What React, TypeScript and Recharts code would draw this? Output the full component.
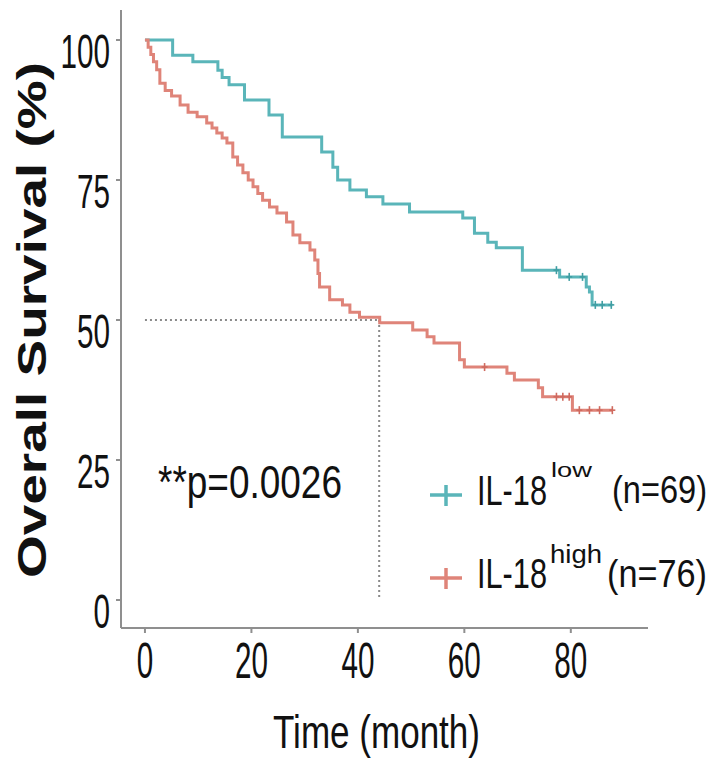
import { ComposedChart, Line, Scatter, XAxis, YAxis, ReferenceLine } from "recharts";

// IL-18 low group (n=69), Kaplan-Meier steps
const lowTimes = [0, 5.2, 9, 13.7, 14.5, 15.8, 18.7, 23.3, 25.8, 33.2, 35.3, 36.2, 38.5, 41.6, 44.7, 49.7, 59.7, 61.9, 64.4, 66, 70.9, 77.9, 82.9, 83.5, 84, 87.8];
const lowSurv = [100, 97.3, 96.1, 94.6, 93.3, 92, 89.3, 86.6, 82.7, 80, 77.3, 75, 73.2, 72, 70.7, 69.3, 68.2, 65.5, 63.9, 62.9, 58.9, 57.7, 55.9, 55, 52.7, 52.7];

// IL-18 high group (n=76)
const highTimes = [0, 0.6, 1.1, 1.6, 2.2, 2.8, 3.8, 5.0, 6.6, 8.1, 9.8, 11.6, 12.6, 13.5, 14.5, 15.4, 16.5, 17.4, 18.4, 19.4, 20.3, 21.2, 22.1, 23.4, 24.8, 26.6, 27.8, 29.1, 31.0, 31.9, 32.5, 32.8, 34.7, 37.1, 38.5, 40.3, 44.1, 50.3, 53.0, 54.3, 59.1, 60.0, 68.0, 69.4, 73.9, 74.7, 80.3, 87.8];
const highSurv = [100, 98.7, 97.4, 96.1, 94.7, 92.3, 91.0, 90.0, 88.4, 87.1, 86.3, 85.2, 84.3, 83.4, 82.5, 81.6, 79.1, 77.7, 76.3, 75.0, 73.8, 72.6, 71.4, 70.2, 69.1, 67.5, 65.2, 63.8, 62.5, 60.7, 58.3, 55.9, 53.6, 52.7, 51.4, 50.5, 49.5, 48.2, 47.0, 45.9, 42.9, 41.6, 40.5, 39.3, 37.9, 36.3, 33.9, 33.9];

// censored observations
const lowCensorTimes = [77.3, 79.7, 82.2, 84.6, 85.9, 87.6];
const lowCensorSurv = [58.9, 57.7, 57.7, 52.7, 52.7, 52.7];
const highCensorTimes = [63.8, 77.3, 78.5, 79.7, 81.6, 83.5, 85.4, 87.8];
const highCensorSurv = [41.6, 36.3, 36.3, 36.3, 33.9, 33.9, 33.9, 33.9];

const xTicks = [0, 20, 40, 60, 80];
const yTicks = [0, 25, 50, 75, 100];
const medianTime = 44;
const medianSurv = 50;

const FONT = "'Liberation Sans', Arial, sans-serif";
const LOW = "#5ab5b9";
const HIGH = "#df8479";
const AXIS = "#8f8f8f";

const toRows = (t: number[], s: number[]) => t.map((v, i) => ({ t: v, s: s[i] }));

const lowData = toRows(lowTimes, lowSurv);
const highData = toRows(highTimes, highSurv);
const lowCensor = toRows(lowCensorTimes, lowCensorSurv);
const highCensor = toRows(highCensorTimes, highCensorSurv);

const DIGIT_W = 16.5;

function YTick({ x, y, payload }: any) {
  const s = String(payload.value);
  const w = s.length * DIGIT_W;
  return (
    <text x={x - 4 - w} y={y + 28} fontFamily={FONT} fontSize={49} fill="#111"
      textLength={w} lengthAdjust="spacingAndGlyphs">{s}</text>
  );
}

function XTick({ x, y, payload }: any) {
  const s = String(payload.value);
  const w = s.length * DIGIT_W;
  return (
    <text x={x - w / 2} y={y + 43} fontFamily={FONT} fontSize={50} fill="#111"
      textLength={w} lengthAdjust="spacingAndGlyphs">{s}</text>
  );
}

const censorShape = (color: string) => (props: any) => {
  const { cx, cy } = props;
  return (
    <g stroke={color} strokeWidth={1.6}>
      <line x1={cx - 3} x2={cx + 3} y1={cy} y2={cy} />
      <line x1={cx} x2={cx} y1={cy - 4} y2={cy + 4} />
    </g>
  );
};

// narrow, tall text: font size picked so natural width ~ w, then stretched vertically
function Tall({ x, y, w, em, size, children }: any) {
  const fs = w / em;
  return (
    <text transform={`translate(${x},${y}) scale(1,${(size / fs).toFixed(3)})`} fontFamily={FONT}
      fontSize={fs} fill="#111" textLength={w} lengthAdjust="spacingAndGlyphs">{children}</text>
  );
}

export default function App() {
  return (
    <div style={{ position: "absolute", left: 0, top: 0, width: 714, height: 768, background: "#fff" }}>
      <ComposedChart width={714} height={768} margin={{ top: 10, right: 66, bottom: 0, left: 0 }}>
        <XAxis
          dataKey="t"
          type="number"
          domain={[-4.5, 94.5]}
          ticks={xTicks}
          allowDataOverflow
          height={140}
          stroke={AXIS}
          strokeWidth={2}
          tickSize={5}
          tick={<XTick />}
          label={{
            content: () => (
              <text x={273} y={748} fontFamily={FONT} fontSize={46} fill="#111"
                textLength={207} lengthAdjust="spacingAndGlyphs">Time (month)</text>
            ),
          }}
        />
        <YAxis
          type="number"
          domain={[-5, 105.36]}
          ticks={yTicks}
          allowDataOverflow
          width={121}
          stroke={AXIS}
          strokeWidth={2}
          tickSize={5}
          tick={<YTick />}
          label={{
            content: () => (
              <text transform="translate(46,320) rotate(-90)" x={-258} y={0} fontFamily={FONT}
                fontWeight="bold" fontSize={40} fill="#111" textLength={516}
                lengthAdjust="spacingAndGlyphs">Overall Survival (%)</text>
            ),
          }}
        />
        <ReferenceLine segment={[{ x: 0, y: medianSurv }, { x: medianTime, y: medianSurv }]}
          stroke="#8a8a8a" strokeWidth={2} strokeDasharray="2 3" />
        <ReferenceLine segment={[{ x: medianTime, y: medianSurv }, { x: medianTime, y: 0 }]}
          stroke="#8a8a8a" strokeWidth={2} strokeDasharray="2 3" />
        <Line data={lowData} dataKey="s" type="stepAfter" stroke={LOW} strokeWidth={3}
          dot={false} activeDot={false} isAnimationActive={false} />
        <Line data={highData} dataKey="s" type="stepAfter" stroke={HIGH} strokeWidth={3}
          dot={false} activeDot={false} isAnimationActive={false} />
        <Scatter data={lowCensor} dataKey="s" shape={censorShape("#3f9ea3")} isAnimationActive={false} />
        <Scatter data={highCensor} dataKey="s" shape={censorShape("#cf6a5f")} isAnimationActive={false} />
      </ComposedChart>
      <svg width={714} height={768} style={{ position: "absolute", left: 0, top: 0, pointerEvents: "none" }}>
        <text x={158} y={498} fontFamily={FONT} fontSize={46} fill="#111"
          textLength={184} lengthAdjust="spacingAndGlyphs">**p=0.0026</text>
        <g stroke={LOW} strokeWidth={3.5}>
          <line x1={430} x2={462} y1={495} y2={495} />
          <line x1={446} x2={446} y1={485} y2={506} />
        </g>
        <Tall x={477} y={505} w={70} em={2.279} size={42}>IL-18</Tall>
        <Tall x={551} y={477} w={41} em={1.5} size={21}>low</Tall>
        <Tall x={612} y={503} w={95} em={2.918} size={38}>(n=69)</Tall>
        <g stroke={HIGH} strokeWidth={3.5}>
          <line x1={430} x2={462} y1={578} y2={578} />
          <line x1={446} x2={446} y1={568} y2={589} />
        </g>
        <Tall x={477} y={588} w={70} em={2.279} size={42}>IL-18</Tall>
        <Tall x={550} y={563} w={52} em={1.89} size={26}>high</Tall>
        <Tall x={607} y={587} w={100} em={2.918} size={38}>(n=76)</Tall>
      </svg>
    </div>
  );
}
